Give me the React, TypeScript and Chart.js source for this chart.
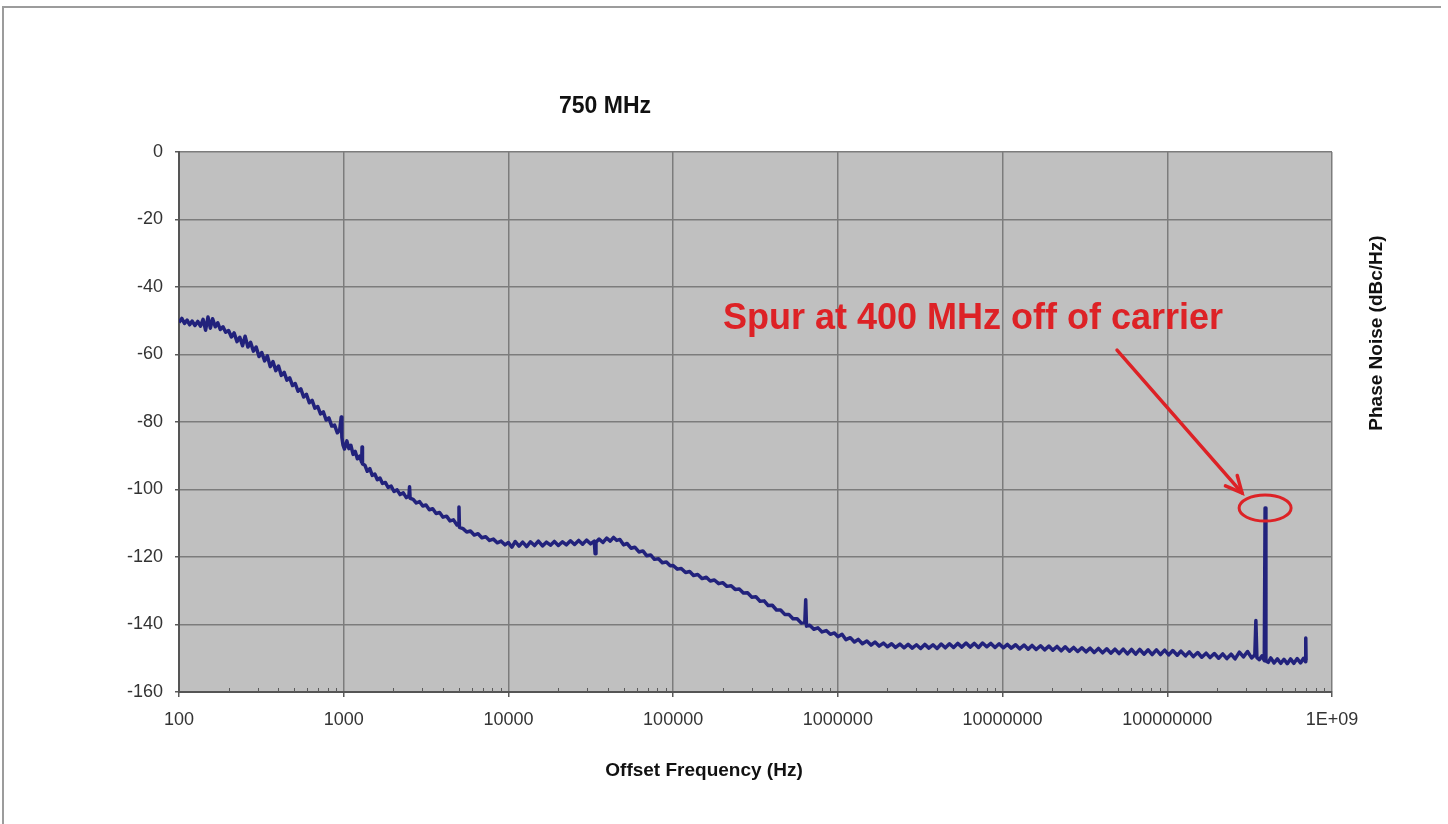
import React, { useEffect, useRef } from "react";
import { Chart, registerables } from "chart.js";

Chart.register(...registerables);

// ---- Data ----
const decadeTicks = [100, 1000, 10000, 100000, 1000000, 10000000, 100000000, 1000000000];
const yTickStep = 20;
const yMin = -160;
const yMax = 0;

const chartTitle = "750 MHz";
const xAxisTitle = "Offset Frequency (Hz)";
const yAxisTitle = "Phase Noise (dBc/Hz)";
const noteText = "Spur at 400 MHz off of carrier";

// [offset frequency Hz, phase noise dBc/Hz]
const closeInNoise: [number, number][] = [
  [100, -50.5], [104, -49.3], [108, -50.8], [112, -49.8], [116, -51.2], [120, -50.1], [125, -51.4], [130, -50.2],
  [135, -51.6], [140, -49.6], [145, -52.8], [150, -48.9], [155, -52.2], [160, -49.4], [166, -51.8], [172, -50.6],
  [178, -52.6], [185, -51.8], [192, -53.4], [200, -52.9], [208, -54.8], [216, -53.6], [225, -56.2], [234, -54.9],
  [243, -57.4], [252, -54.6], [262, -57.8], [272, -56.4], [283, -59.0], [294, -57.8], [306, -60.6], [318, -59.4],
  [331, -61.9], [344, -60.4], [358, -63.6], [372, -62.1], [387, -64.8], [402, -63.4], [418, -66.2], [435, -65.3],
  [452, -67.6], [470, -66.9], [489, -69.2], [508, -68.6], [528, -70.9], [549, -70.2], [571, -72.6], [594, -71.8],
  [618, -74.3], [643, -73.6], [668, -75.9], [695, -75.4], [723, -77.6], [752, -77.0], [782, -79.4], [813, -78.8],
  [846, -81.2], [880, -80.9], [915, -83.2], [945, -82.4], [966, -78.5], [975, -84.6], [990, -86.8],
];

const midNoise: [number, number][] = [
  [1010, -88.0], [1045, -85.6], [1075, -87.9], [1105, -86.9], [1140, -89.6], [1175, -88.7], [1210, -90.9],
  [1250, -90.1], [1285, -91.9], [1292, -87.4], [1300, -92.4], [1345, -92.8], [1390, -94.6], [1440, -93.8],
  [1490, -95.8], [1545, -95.4], [1600, -97.1], [1660, -96.6], [1720, -98.2], [1790, -97.9], [1860, -99.4],
  [1940, -99.0], [2020, -100.6], [2110, -100.1], [2200, -101.5], [2300, -101.0], [2400, -102.4], [2490, -101.8],
  [2510, -99.2], [2530, -102.6], [2640, -102.9], [2760, -104.0], [2890, -103.6], [3020, -104.9], [3160, -104.6],
  [3310, -106.0], [3470, -105.7], [3640, -107.1], [3820, -106.8], [4010, -108.2], [4210, -107.9], [4420, -109.3],
  [4640, -109.0], [4870, -110.5], [4980, -110.2], [5010, -105.2], [5040, -111.2], [5300, -111.6], [5580, -112.6],
  [5880, -112.3], [6200, -113.5], [6540, -113.1], [6900, -114.3], [7280, -114.0], [7680, -115.1], [8100, -114.7],
  [8550, -115.8], [9030, -115.3], [9530, -116.4],
];

const plateauNoise: [number, number][] = [
  [10000, -115.7], [10500, -117.1], [11000, -115.4], [11600, -116.8], [12200, -115.6], [12900, -116.9],
  [13600, -115.5], [14400, -116.6], [15200, -115.3], [16100, -116.7], [17000, -115.6], [18000, -116.5],
  [19000, -115.4], [20100, -116.6], [21300, -115.5], [22500, -116.4], [23800, -115.2], [25200, -116.3],
  [26700, -115.1], [28200, -116.2], [29800, -115.0], [31500, -116.1], [33200, -115.3], [33600, -119.0],
  [34000, -115.6], [35500, -114.7], [37500, -115.7], [39500, -114.4], [41500, -115.3], [43500, -114.2],
  [45500, -115.1], [47500, -114.8], [50000, -116.4], [52500, -116.0], [55500, -117.4], [58500, -117.1],
  [62000, -118.5], [65500, -118.2], [69000, -119.6], [73000, -119.4], [77000, -120.7], [81500, -120.5],
  [86000, -121.7], [91000, -121.5], [96000, -122.6],
];

const rolloffNoise: [number, number][] = [
  [100000, -122.5], [106000, -123.6], [112000, -123.4], [119000, -124.6], [126000, -124.3], [133000, -125.5],
  [141000, -125.2], [150000, -126.4], [159000, -126.0], [168000, -127.1], [178000, -126.8], [189000, -127.9],
  [200000, -127.6], [212000, -128.7], [225000, -128.5], [238000, -129.6], [252000, -129.5], [267000, -130.7],
  [283000, -130.6], [300000, -131.9], [318000, -131.8], [337000, -133.1], [357000, -133.0], [378000, -134.4],
  [400000, -134.3], [424000, -135.7], [449000, -135.7], [476000, -137.0], [504000, -137.0], [534000, -138.3],
  [566000, -138.3], [600000, -139.6], [630000, -139.4], [638000, -132.7], [645000, -140.5], [675000, -140.2],
  [715000, -141.4], [757000, -141.0], [802000, -142.2], [850000, -141.8], [900000, -142.9], [953000, -142.5],
];

const floorNoise: [number, number][] = [
  [1000000, -143.6], [1060000, -142.9], [1120000, -144.5], [1190000, -143.9], [1260000, -145.2], [1330000, -144.4],
  [1410000, -145.7], [1500000, -144.9], [1590000, -146.1], [1680000, -145.2], [1780000, -146.4], [1890000, -145.5],
  [2000000, -146.6], [2120000, -145.7], [2240000, -146.8], [2380000, -145.8], [2520000, -146.9], [2670000, -145.9],
  [2830000, -147.0], [3000000, -146.0], [3180000, -147.1], [3370000, -145.9], [3570000, -147.0], [3780000, -146.0],
  [4000000, -147.1], [4240000, -145.8], [4490000, -146.9], [4760000, -145.7], [5040000, -146.8], [5340000, -145.6],
  [5660000, -146.7], [6000000, -145.5], [6360000, -146.7], [6740000, -145.6], [7140000, -146.8], [7560000, -145.5],
  [8010000, -146.6], [8490000, -145.6], [9000000, -146.8], [9530000, -145.7],
  [10100000, -146.9], [10700000, -145.9], [11300000, -147.0], [12000000, -146.0], [12700000, -147.2], [13500000, -146.1],
  [14300000, -147.3], [15100000, -146.2], [16000000, -147.4], [17000000, -146.3], [18000000, -147.5], [19100000, -146.4],
  [20200000, -147.6], [21400000, -146.5], [22700000, -147.8], [24000000, -146.6], [25500000, -147.9], [27000000, -146.8],
  [28600000, -148.0], [30300000, -146.9], [32100000, -148.1], [34000000, -147.0], [36000000, -148.3], [38200000, -147.1],
  [40500000, -148.4], [42900000, -147.2], [45400000, -148.5], [48100000, -147.3], [51000000, -148.6], [54000000, -147.3],
  [57300000, -148.7], [60700000, -147.4], [64300000, -148.8], [68100000, -147.4], [72200000, -148.8], [76500000, -147.5],
  [81000000, -148.9], [85900000, -147.5], [91000000, -148.9], [96400000, -147.6],
];

const spurRegionNoise: [number, number][] = [
  [102000000, -149.0], [108000000, -147.7], [115000000, -149.1], [121000000, -147.9], [129000000, -149.3],
  [136000000, -148.1], [144000000, -149.5], [153000000, -148.3], [162000000, -149.7], [172000000, -148.5],
  [182000000, -149.8], [193000000, -148.6], [205000000, -150.0], [217000000, -148.7], [230000000, -150.1],
  [244000000, -148.8], [258000000, -150.2], [274000000, -148.2], [290000000, -149.6], [307000000, -148.0],
  [325000000, -149.9], [340000000, -149.0], [345000000, -138.8], [350000000, -149.8], [362000000, -150.4],
  [376000000, -149.3], [388000000, -150.7], [392500000, -105.5], [397000000, -150.8], [410000000, -151.2],
  [425000000, -149.9], [445000000, -151.4], [466000000, -150.2], [488000000, -151.5], [511000000, -150.3],
  [535000000, -151.6], [560000000, -150.2], [587000000, -151.5], [615000000, -150.1], [644000000, -151.4],
  [672000000, -150.0], [690000000, -151.0], [693000000, -144.0], [696000000, -150.6],
];

// Annotation anchors in data units
const spurFreq = 392500000;
const spurLevel = -105.5;
const noteAnchor: [number, number] = [6615000, -49.5];
const arrowFrom: [number, number] = [49530000, -58.7];
const arrowTo: [number, number] = [284300000, -101.0];

const FONT = 'Arial, "Liberation Sans", Helvetica, sans-serif';
const RED = "#dd2226";

const decorPlugin = {
  id: "decor",
  beforeDraw(chart: any) {
    const { ctx, chartArea: a, width, height } = chart;
    ctx.save();
    ctx.fillStyle = "#ffffff";
    ctx.fillRect(0, 0, width, height);
    ctx.strokeStyle = "#9c9c9c";
    ctx.lineWidth = 2;
    ctx.beginPath();
    ctx.moveTo(3, height);
    ctx.lineTo(3, 7);
    ctx.lineTo(1441, 7);
    ctx.stroke();
    ctx.fillStyle = "#c0c0c0";
    ctx.fillRect(a.left, a.top, a.right - a.left, a.bottom - a.top);
    ctx.restore();
  },
  afterDraw(chart: any) {
    const { ctx, chartArea: a, scales } = chart;
    const xs = scales.x;
    const ys = scales.y;
    ctx.save();
    // minor ticks on the frequency axis
    ctx.strokeStyle = "#5a5a5a";
    ctx.lineWidth = 1;
    for (let d = 2; d < 9; d++) {
      for (let m = 2; m <= 9; m++) {
        const px = Math.round(xs.getPixelForValue(m * Math.pow(10, d))) + 0.5;
        ctx.beginPath();
        ctx.moveTo(px, a.bottom);
        ctx.lineTo(px, a.bottom - 4);
        ctx.stroke();
      }
    }
    // titles
    ctx.fillStyle = "#111";
    ctx.textAlign = "center";
    ctx.textBaseline = "middle";
    ctx.font = `bold 23px ${FONT}`;
    ctx.fillText(chartTitle, 605, 107);
    ctx.font = `bold 19px ${FONT}`;
    ctx.fillText(xAxisTitle, 704, 771);
    ctx.save();
    ctx.translate(1377, 333);
    ctx.rotate(-Math.PI / 2);
    ctx.fillText(yAxisTitle, 0, 0);
    ctx.restore();

    // annotation
    ctx.fillStyle = RED;
    ctx.strokeStyle = RED;
    ctx.font = `bold 36px ${FONT}`;
    ctx.fillText(noteText, xs.getPixelForValue(noteAnchor[0]), ys.getPixelForValue(noteAnchor[1]));

    const x0 = xs.getPixelForValue(arrowFrom[0]);
    const y0 = ys.getPixelForValue(arrowFrom[1]);
    const x1 = xs.getPixelForValue(arrowTo[0]);
    const y1 = ys.getPixelForValue(arrowTo[1]);
    ctx.lineWidth = 3.5;
    ctx.lineCap = "round";
    ctx.beginPath();
    ctx.moveTo(x0, y0);
    ctx.lineTo(x1, y1);
    ctx.stroke();
    const ang = Math.atan2(y1 - y0, x1 - x0);
    const hl = 18;
    ctx.beginPath();
    ctx.moveTo(x1 - hl * Math.cos(ang - 0.45), y1 - hl * Math.sin(ang - 0.45));
    ctx.lineTo(x1, y1);
    ctx.lineTo(x1 - hl * Math.cos(ang + 0.45), y1 - hl * Math.sin(ang + 0.45));
    ctx.stroke();

    ctx.lineWidth = 3;
    ctx.beginPath();
    ctx.ellipse(xs.getPixelForValue(spurFreq), ys.getPixelForValue(spurLevel), 26, 13, 0, 0, Math.PI * 2);
    ctx.stroke();
    ctx.restore();
  },
};

export default function App() {
  const canvasRef = useRef<HTMLCanvasElement | null>(null);

  useEffect(() => {
    document.body.style.margin = "0";
    const canvas = canvasRef.current;
    if (!canvas) return;
    const points = [
      ...closeInNoise,
      ...midNoise,
      ...plateauNoise,
      ...rolloffNoise,
      ...floorNoise,
      ...spurRegionNoise,
    ].map(([x, y]) => ({ x, y }));

    const chart = new Chart(canvas, {
      type: "line",
      data: {
        datasets: [
          {
            data: points,
            borderColor: "#22227c",
            borderWidth: 3.5,
            pointRadius: 0,
            tension: 0,
            borderJoinStyle: "round",
          },
        ],
      },
      options: {
        animation: false,
        responsive: false,
        devicePixelRatio: 1,
        layout: { padding: { left: 119, top: 152, right: 116, bottom: 82 } },
        plugins: { legend: { display: false }, tooltip: { enabled: false } },
        scales: {
          x: {
            type: "logarithmic",
            min: decadeTicks[0],
            max: decadeTicks[decadeTicks.length - 1],
            afterBuildTicks: (scale: any) => {
              scale.ticks = decadeTicks.map((v) => ({ value: v }));
            },
            afterFit: (scale: any) => {
              scale.height = 50;
            },
            grid: { color: "#7c7c7c", lineWidth: 1.5, drawTicks: true, tickLength: 5, tickColor: "#5a5a5a" },
            border: { display: true, color: "#555555", width: 2 },
            ticks: {
              autoSkip: false,
              maxRotation: 0,
              padding: 12,
              color: "#333",
              font: { family: FONT, size: 18 },
              callback: (v: any) => (Number(v) >= 1e9 ? "1E+09" : String(Number(v))),
            },
          },
          y: {
            type: "linear",
            min: yMin,
            max: yMax,
            afterFit: (scale: any) => {
              scale.width = 60;
            },
            grid: { color: "#7c7c7c", lineWidth: 1.5, drawTicks: true, tickLength: 4, tickColor: "#5a5a5a" },
            border: { display: true, color: "#555555", width: 2 },
            ticks: {
              stepSize: yTickStep,
              padding: 12,
              color: "#333",
              font: { family: FONT, size: 18 },
            },
          },
        },
      },
      plugins: [decorPlugin],
    } as any);

    return () => chart.destroy();
  }, []);

  return (
    <div style={{ width: 1448, height: 824 }}>
      <canvas ref={canvasRef} width={1448} height={824} style={{ display: "block" }} />
    </div>
  );
}
